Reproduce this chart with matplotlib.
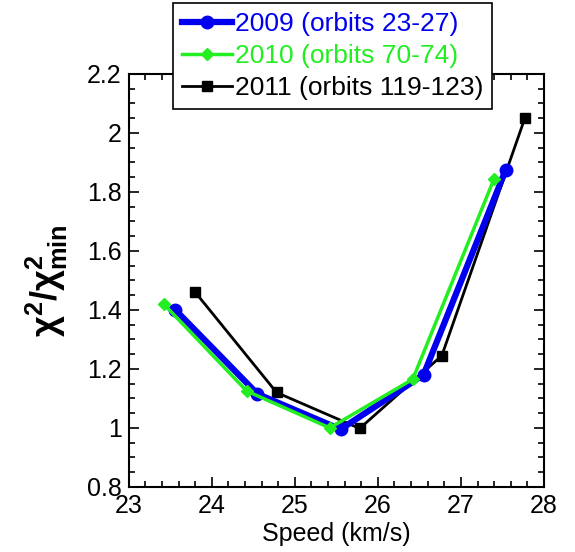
import numpy as np
from matplotlib import pyplot as plt
from matplotlib.ticker import MultipleLocator

plt.rcParams['font.family'] = ['Liberation Sans', 'DejaVu Sans']
plt.rcParams['mathtext.fontset'] = 'custom'
plt.rcParams['mathtext.rm'] = 'Liberation Sans'
plt.rcParams['mathtext.it'] = 'Liberation Sans:italic'
plt.rcParams['mathtext.bf'] = 'Liberation Sans:bold'

# data
speed2009 = [23.56, 24.55, 25.55, 26.55, 27.54]
chi2009 = [1.40, 1.115, 0.995, 1.18, 1.875]

speed2010 = [23.42, 24.42, 25.42, 26.42, 27.40]
chi2010 = [1.42, 1.125, 1.0, 1.165, 1.845]

speed2011 = [23.80, 24.78, 25.78, 26.77, 27.77]
chi2011 = [1.46, 1.12, 0.998, 1.245, 2.05]

labels = ['2009 (orbits 23-27)', '2010 (orbits 70-74)', '2011 (orbits 119-123)']
colors = ['#0000ee', '#22ee22', 'black']

yticks = [0.8, 1.0, 1.2, 1.4, 1.6, 1.8, 2.0, 2.2]
yticklabels = ['0.8', '1', '1.2', '1.4', '1.6', '1.8', '2', '2.2']

fig = plt.figure(figsize=(5.75, 5.52), dpi=100)
ax = fig.add_axes([0.224, 0.118, 0.722, 0.748])

ax.plot(speed2009, chi2009, color=colors[0], lw=4.5, marker='o', ms=9, label=labels[0], zorder=3)
ax.plot(speed2010, chi2010, color=colors[1], lw=2.5, marker='D', ms=6, label=labels[1], zorder=4)
ax.plot(speed2011, chi2011, color=colors[2], lw=2, marker='s', ms=7, label=labels[2], zorder=2)

ax.set_xlim(23, 28)
ax.set_ylim(0.8, 2.2)
ax.set_yticks(yticks)
ax.set_yticklabels(yticklabels)
ax.xaxis.set_minor_locator(MultipleLocator(0.2))
ax.yaxis.set_minor_locator(MultipleLocator(0.05))
ax.tick_params(which='both', direction='in', top=True, right=True, labelsize=18, width=1.2)
ax.tick_params(which='major', length=7, pad=5)
ax.tick_params(which='minor', length=4)
for s in ax.spines.values():
    s.set_linewidth(1.5)

ax.set_xlabel('Speed (km/s)', fontsize=18, labelpad=3)
ax.set_ylabel(r'$\mathbf{\chi^2/\chi^2_{min}}$', fontsize=26, labelpad=12)

leg = fig.legend(loc='upper left', bbox_to_anchor=(0.30, 0.995), fontsize=19,
                 borderaxespad=0,
                 handlelength=1.9, handletextpad=0.1, borderpad=0.35, labelspacing=0.3,
                 fancybox=False, edgecolor='black', framealpha=1)
leg.get_frame().set_linewidth(1.2)
for t, c in zip(leg.get_texts(), colors):
    t.set_color(c)

fig.savefig('out.png', dpi=100)
